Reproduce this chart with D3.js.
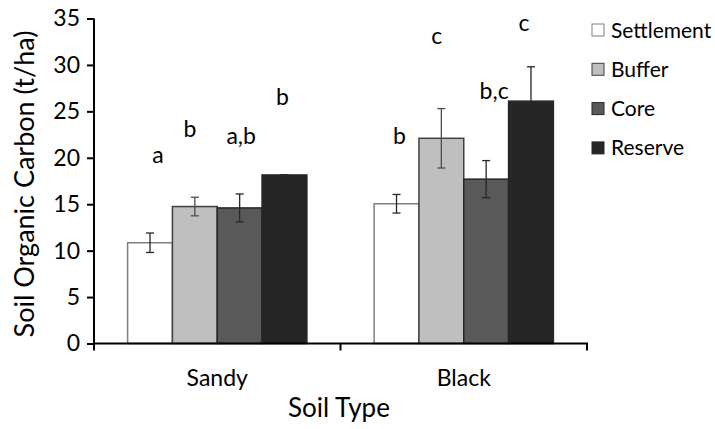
<!DOCTYPE html>
<html><head><meta charset="utf-8">
<script src="https://cdn.jsdelivr.net/npm/d3@7"></script>
<style>body{margin:0;background:#fff}text{font-family:Lato,"Open Sans",sans-serif;fill:#000}</style>
</head><body><svg id="c" width="715" height="429"></svg>
<script>
const categories = ["Sandy", "Black"];
const seriesNames = ["Settlement", "Buffer", "Core", "Reserve"];
const settlement = [10.85, 15.05];
const buffer = [14.75, 22.1];
const core = [14.6, 17.7];
const reserve = [18.15, 26.1];
const settlementErr = [1.05, 1.0];
const bufferErr = [1.0, 3.2];
const coreErr = [1.5, 2.0];
const reserveErr = [0.0, 3.7];
const settlementLetters = ["a", "b"];
const bufferLetters = ["b", "c"];
const coreLetters = ["a,b", "b,c"];
const reserveLetters = ["b", "c"];
const letterHeights = [[19.4, 22.26, 21.5, 25.7], [21.5, 32.3, 26.3, 33.7]];
const yTicks = [0, 5, 10, 15, 20, 25, 30, 35];

const fills = ["#ffffff", "#bfbfbf", "#595959", "#262626"];
const strokes = ["#7f7f7f", "#404040", "#262626", "#262626"];
const errColors = ["#262626", "#4d4d4d", "#262626", "#262626"];
const letterDx = [[8, -5, 1.5, -2], [3, -4.5, 8, -7]];

const values = [settlement, buffer, core, reserve];
const errs = [settlementErr, bufferErr, coreErr, reserveErr];
const letters = [settlementLetters, bufferLetters, coreLetters, reserveLetters];

const svg = d3.select("#c");
const mLeft = 94, mRight = 587, mTop = 18.5, mBottom = 343.5;
const x0 = d3.scaleBand().domain(categories).range([mLeft, mRight]).paddingInner(0).paddingOuter(0);
const x1 = d3.scaleBand().domain(seriesNames).range([0, x0.bandwidth()]).paddingInner(0).paddingOuter(0.75);
const y = d3.scaleLinear().domain([0, 35]).range([mBottom, mTop]);

const data = [];
categories.forEach((c, ci) => seriesNames.forEach((s, si) => data.push({
  c, ci, s, si, v: values[si][ci], e: errs[si][ci], l: letters[si][ci]
})));

const g = svg.append("g");
g.selectAll("rect.bar").data(data).join("rect")
  .attr("x", d => x0(d.c) + x1(d.s))
  .attr("y", d => y(d.v))
  .attr("width", x1.bandwidth())
  .attr("height", d => y(0) - y(d.v))
  .attr("fill", d => fills[d.si])
  .attr("stroke", d => strokes[d.si])
  .attr("stroke-width", 1.5);

const cx = d => x0(d.c) + x1(d.s) + x1.bandwidth() / 2;
const eb = g.selectAll("g.eb").data(data).join("g")
  .attr("stroke", d => errColors[d.si]).attr("stroke-width", 1.3);
eb.append("line").attr("x1", cx).attr("x2", cx)
  .attr("y1", d => y(d.v + d.e)).attr("y2", d => y(d.v - d.e));
eb.append("line").attr("x1", d => cx(d) - 4).attr("x2", d => cx(d) + 4)
  .attr("y1", d => y(d.v + d.e)).attr("y2", d => y(d.v + d.e));
eb.append("line").attr("x1", d => cx(d) - 4).attr("x2", d => cx(d) + 4)
  .attr("y1", d => y(d.v - d.e)).attr("y2", d => y(d.v - d.e));

g.selectAll("text.let").data(data).join("text")
  .attr("x", d => cx(d) + letterDx[d.ci][d.si])
  .attr("y", d => y(letterHeights[d.ci][d.si]))
  .attr("text-anchor", "middle")
  .attr("font-size", 23)
  .text(d => d.l);

const ya = svg.append("g").attr("transform", `translate(${mLeft},0)`)
  .call(d3.axisLeft(y).tickValues(yTicks).tickSize(7).tickPadding(7));
ya.select(".domain").attr("stroke", "#000").attr("stroke-width", 2).attr("d", `M0,${mTop}V${mBottom}`);
ya.selectAll(".tick line").attr("stroke", "#000").attr("stroke-width", 2);
ya.selectAll(".tick text").attr("font-size", 23).attr("font-family", "Lato,sans-serif").attr("fill", "#000");

const xa = svg.append("g").attr("transform", `translate(0,${mBottom})`);
xa.append("line").attr("x1", mLeft - 1).attr("x2", mRight + 1).attr("y1", 0).attr("y2", 0)
  .attr("stroke", "#000").attr("stroke-width", 2);
const bounds = [mLeft, x0("Black"), mRight];
xa.selectAll("line.t").data(bounds).join("line").attr("class", "t")
  .attr("x1", d => d).attr("x2", d => d).attr("y1", 0).attr("y2", 7)
  .attr("stroke", "#000").attr("stroke-width", 2);
xa.selectAll("text.cat").data(categories).join("text")
  .attr("x", d => x0(d) + x0.bandwidth() / 2).attr("y", 42)
  .attr("text-anchor", "middle").attr("font-size", 23).text(d => d);

svg.append("text").attr("x", 339).attr("y", 417).attr("text-anchor", "middle")
  .attr("font-size", 26).text("Soil Type");
svg.append("text").attr("transform", `translate(34,184) rotate(-90)`)
  .attr("text-anchor", "middle").attr("font-size", 27).text("Soil Organic Carbon (t/ha)");

const lg = svg.append("g").attr("transform", "translate(592,30)");
const li = lg.selectAll("g").data(seriesNames).join("g")
  .attr("transform", (d, i) => `translate(0,${i * 39.3})`);
li.append("rect").attr("x", 0).attr("y", -6).attr("width", 12).attr("height", 12)
  .attr("fill", (d, i) => fills[i]).attr("stroke", (d, i) => strokes[i]).attr("stroke-width", 1);
li.append("text").attr("x", 19).attr("y", 7.5).attr("font-size", 21).text(d => d);
</script></body></html>
